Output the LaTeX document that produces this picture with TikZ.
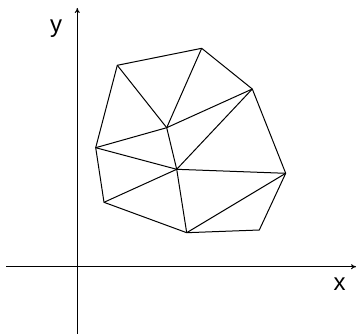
\documentclass[tikz,border=0pt]{standalone}
\usepackage{fontspec}
\setmainfont{Liberation Sans}
\usetikzlibrary{arrows.meta}
\begin{document}
\begin{tikzpicture}[x=1pt, y=-1pt, line width=1pt,
    axisline/.style={-{To[length=5pt,width=5pt]}},
    meshline/.style={line join=round},
    axislabel/.style={font=\fontsize{24}{24}\selectfont, inner sep=0pt}]
    \useasboundingbox (0,0) rectangle (357,334);

    % Axes
    \coordinate (xs) at (6,266.7);
    \coordinate (xe) at (356,266.7);
    \coordinate (ys) at (77.3,334);
    \coordinate (ye) at (77.3,8);
    \draw[axisline] (xs) -- (xe);
    \draw[axisline] (ys) -- (ye);

    % Axis labels
    \node[axislabel] (ylab) at (56,28.3) {y};
    \node[axislabel] (xlab) at (339.7,283.7) {x};

    % Mesh vertices
    \foreach \n/\px/\py in {a/117.3/65.3, b/201.7/48.3, c/252.3/89,
        d/166.7/127.7, e/95.7/147.7, f/176.7/169.3, g/285.7/173.3,
        h/104/202.3, i/186.7/232.7, j/259.3/230} {
        \coordinate (\n) at (\px,\py);
    }

    % Boundary
    \draw[meshline] (a) -- (b) -- (c) -- (g) -- (j) -- (i) -- (h) -- (e) -- cycle;

    % Interior edges
    \foreach \u/\v in {a/d, b/d, d/c, c/f, d/e, d/f, e/f, f/h, f/i, f/g, g/i} {
        \draw[meshline] (\u) -- (\v);
    }
\end{tikzpicture}
\end{document}
